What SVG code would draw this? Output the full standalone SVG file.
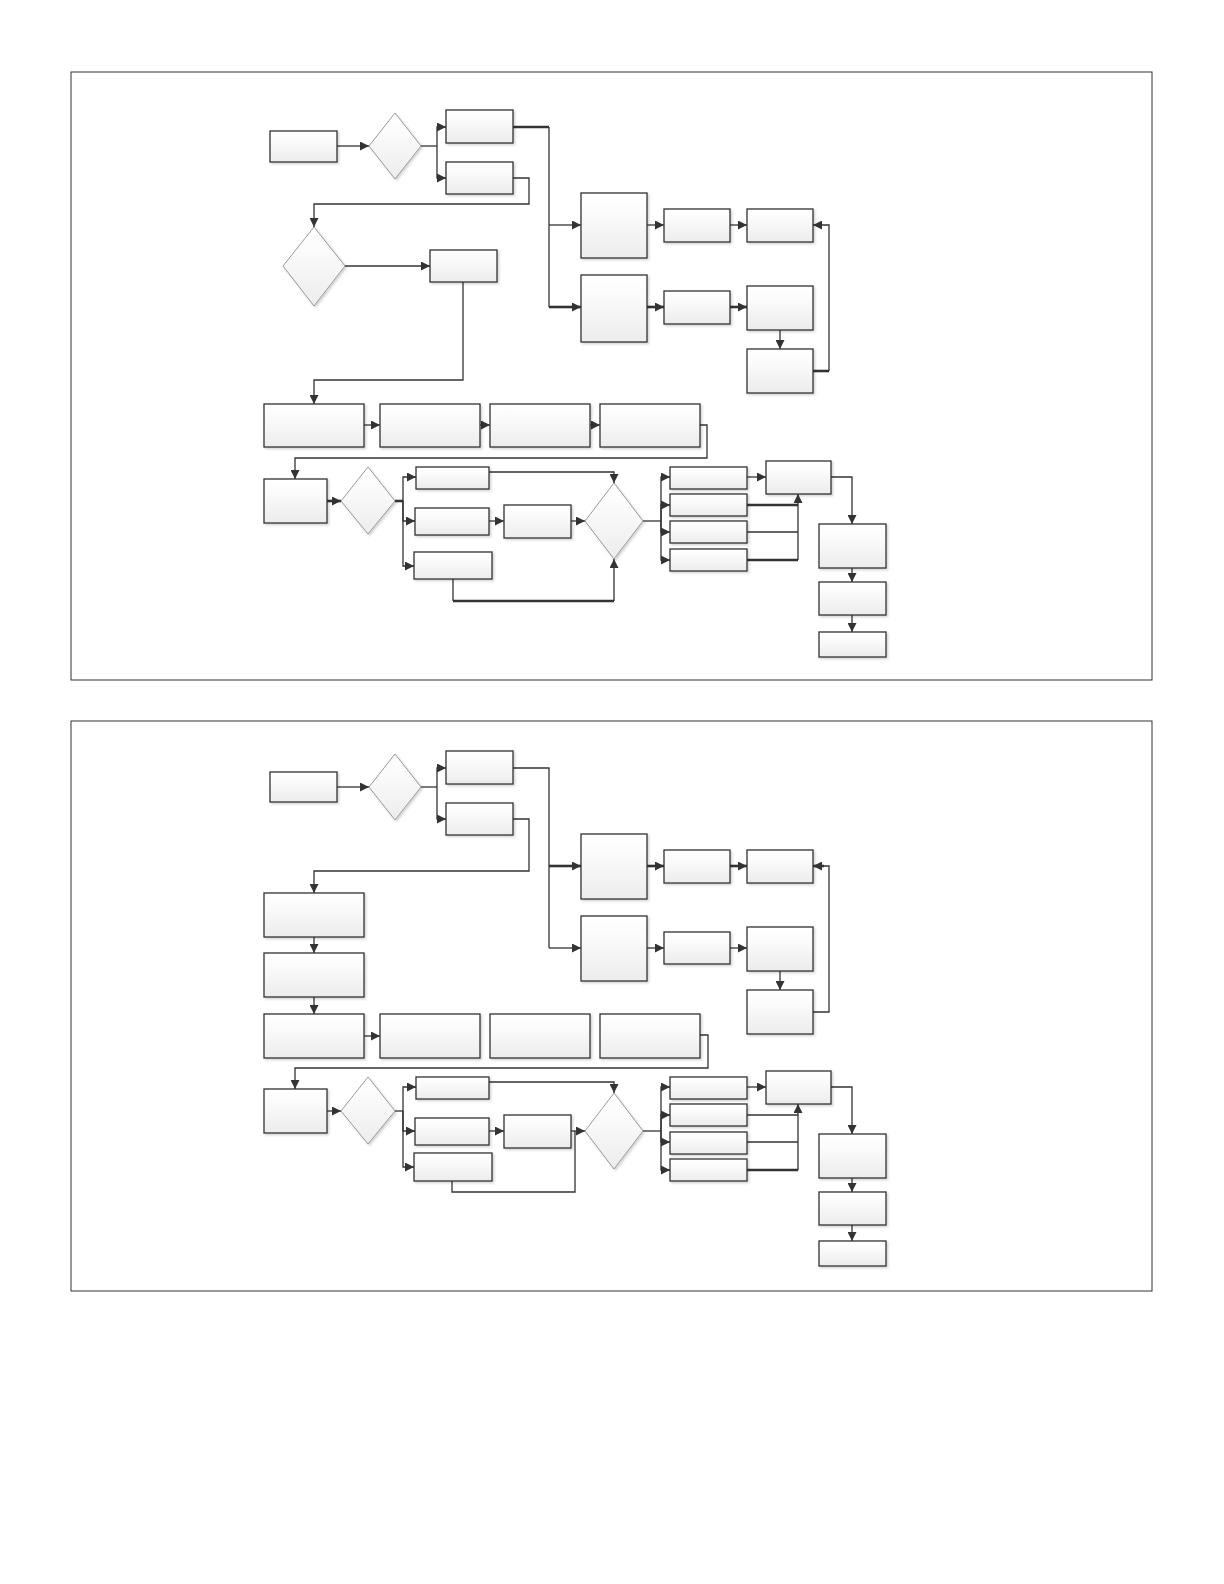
<svg xmlns="http://www.w3.org/2000/svg" width="1224" height="1584" viewBox="0 0 1224 1584">
<defs>
<linearGradient id="g" x1="0" y1="0" x2="0" y2="1">
<stop offset="0" stop-color="#ffffff"/>
<stop offset="0.3" stop-color="#fbfbfb"/>
<stop offset="1" stop-color="#ececec"/>
</linearGradient>
<filter id="sh" x="-10%" y="-10%" width="130%" height="130%">
<feDropShadow dx="1.5" dy="1.5" stdDeviation="1" flood-color="#000" flood-opacity="0.18"/>
</filter>
<marker id="ah" viewBox="0 0 10 10" refX="10" refY="5" markerWidth="10" markerHeight="9" orient="auto" markerUnits="userSpaceOnUse">
<path d="M0,0 L10,5 L0,10 z" fill="#333"/>
</marker>
</defs>
<style>
.b{fill:url(#g);stroke:#333;stroke-width:1.3;filter:url(#sh)}
.d{fill:url(#g);stroke:#999;stroke-width:1;filter:url(#sh)}
.c{fill:none;stroke:#333;stroke-width:1.3}
.t{fill:none;stroke:#333;stroke-width:2.6}
.a{marker-end:url(#ah)}
.f{fill:#fff;stroke:#333;stroke-width:1}
</style>
<rect x="0" y="0" width="1224" height="1584" fill="#fff"/>
<rect class="f" x="71" y="72" width="1081" height="608"/>
<rect class="f" x="71" y="721" width="1081" height="570"/>

<g id="top-connectors">
<path class="c a" d="M337,146 H369"/>
<path class="c" d="M421,146 H437"/>
<path class="c a" d="M437,146 V127 H446"/>
<path class="c a" d="M437,146 V178 H446"/>
<path class="t" d="M513,127 H549"/>
<path class="c" d="M549,127 V307"/>
<path class="c a" d="M549,225 H581"/>
<path class="t a" d="M549,307 H581"/>
<path class="c a" d="M513,178 H529 V204 H314 V227"/>
<path class="c a" d="M345,266 H430"/>
<path class="c a" d="M463,282 V380 H314 V404"/>
<path class="c a" d="M647,225 H664"/>
<path class="c a" d="M730,225 H747"/>
<path class="t a" d="M647,307 H664"/>
<path class="t a" d="M730,307 H747"/>
<path class="c a" d="M780,330 V349"/>
<path class="t" d="M813,371 H829"/>
<path class="c a" d="M829,371 V225 H813"/>
<path class="c a" d="M364,425 H380"/>
<path class="c a" d="M480,425 H490"/>
<path class="c a" d="M590,425 H600"/>
<path class="c a" d="M700,425 H707 V458 H295 V479"/>
<path class="t a" d="M327,501 H341"/>
<path class="t" d="M395,501 H403"/>
<path class="c a" d="M403,501 V477 H416"/>
<path class="c a" d="M403,501 V521 H415"/>
<path class="c a" d="M403,501 V566 H414"/>
<path class="c a" d="M489,472 H614 V483"/>
<path class="c a" d="M489,521 H504"/>
<path class="c a" d="M571,521 H585"/>
<path class="c" d="M453,579 V601"/>
<path class="t" d="M453,601 H614"/>
<path class="c a" d="M614,601 V559"/>
<path class="c" d="M643,521 H661"/>
<path class="c a" d="M661,521 V477 H670"/>
<path class="c a" d="M661,521 V505 H670"/>
<path class="c a" d="M661,521 V532 H670"/>
<path class="c a" d="M661,521 V560 H670"/>
<path class="c a" d="M747,477 H766"/>
<path class="t" d="M747,505 H798"/>
<path class="c" d="M747,532 H798"/>
<path class="t" d="M747,560 H798"/>
<path class="c a" d="M798,560 V494"/>
<path class="c a" d="M831,477 H852 V524"/>
<path class="c a" d="M852,568 V582"/>
<path class="c a" d="M852,615 V632"/>
</g>

<g id="top-nodes">
<rect id="t-a" class="b" x="270" y="131" width="67" height="31"/>
<polygon id="t-d1" class="d" points="395,113 421,146 395,179 369,146"/>
<rect id="t-b1" class="b" x="446" y="110" width="67" height="33"/>
<rect id="t-b2" class="b" x="446" y="162" width="67" height="32"/>
<polygon id="t-d2" class="d" points="314,227 345,266 314,306 283,266"/>
<rect id="t-e" class="b" x="430" y="250" width="67" height="32"/>
<rect id="t-c1" class="b" x="581" y="193" width="66" height="65"/>
<rect id="t-c2" class="b" x="581" y="275" width="66" height="67"/>
<rect id="t-g1" class="b" x="664" y="209" width="66" height="33"/>
<rect id="t-h1" class="b" x="747" y="209" width="66" height="33"/>
<rect id="t-g2" class="b" x="664" y="291" width="66" height="33"/>
<rect id="t-h2" class="b" x="747" y="286" width="66" height="44"/>
<rect id="t-h3" class="b" x="747" y="349" width="66" height="44"/>
<rect id="t-f1" class="b" x="264" y="404" width="100" height="43"/>
<rect id="t-f2" class="b" x="380" y="404" width="100" height="43"/>
<rect id="t-f3" class="b" x="490" y="404" width="100" height="43"/>
<rect id="t-f4" class="b" x="600" y="404" width="100" height="43"/>
<rect id="t-i" class="b" x="264" y="479" width="63" height="44"/>
<polygon id="t-d3" class="d" points="368,467 395,501 368,534 341,501"/>
<rect id="t-j1" class="b" x="416" y="467" width="73" height="22"/>
<rect id="t-j2" class="b" x="415" y="508" width="74" height="27"/>
<rect id="t-j3" class="b" x="414" y="552" width="78" height="27"/>
<rect id="t-k" class="b" x="504" y="505" width="67" height="33"/>
<polygon id="t-d4" class="d" points="614,483 643,521 614,559 585,521"/>
<rect id="t-l1" class="b" x="670" y="467" width="77" height="22"/>
<rect id="t-l2" class="b" x="670" y="494" width="77" height="22"/>
<rect id="t-l3" class="b" x="670" y="521" width="77" height="22"/>
<rect id="t-l4" class="b" x="670" y="549" width="77" height="22"/>
<rect id="t-m" class="b" x="766" y="461" width="65" height="33"/>
<rect id="t-n" class="b" x="819" y="524" width="67" height="44"/>
<rect id="t-o" class="b" x="819" y="582" width="67" height="33"/>
<rect id="t-p" class="b" x="819" y="632" width="67" height="25"/>
</g>

<g id="bottom-connectors">
<path class="c a" d="M337,787 H369"/>
<path class="c" d="M421,787 H437"/>
<path class="c a" d="M437,787 V768 H446"/>
<path class="c a" d="M437,787 V819 H446"/>
<path class="c" d="M513,768 H549 V948"/>
<path class="t a" d="M549,866 H581"/>
<path class="c a" d="M549,948 H581"/>
<path class="c a" d="M513,819 H529 V871 H314 V893"/>
<path class="t a" d="M647,866 H664"/>
<path class="t a" d="M730,866 H747"/>
<path class="c a" d="M647,948 H664"/>
<path class="c a" d="M730,948 H747"/>
<path class="c a" d="M780,971 V990"/>
<path class="c" d="M813,1012 H829 V866 H822"/>
<path class="t a" d="M824,866 H813"/>
<path class="c a" d="M314,937 V953"/>
<path class="c a" d="M314,997 V1014"/>
<path class="c a" d="M364,1036 H380"/>
<path class="c a" d="M700,1035 H708 V1068 H295 V1089"/>
<path class="c a" d="M327,1111 H341"/>
<path class="c" d="M395,1111 H403"/>
<path class="c a" d="M403,1111 V1087 H416"/>
<path class="c a" d="M403,1111 V1131 H415"/>
<path class="c a" d="M403,1111 V1167 H414"/>
<path class="c a" d="M489,1082 H614 V1093"/>
<path class="c a" d="M489,1131 H504"/>
<path class="c a" d="M571,1131 H585"/>
<path class="c" d="M452,1181 V1192 H575 V1131"/>
<path class="c" d="M643,1131 H661"/>
<path class="c a" d="M661,1131 V1087 H670"/>
<path class="c a" d="M661,1131 V1115 H670"/>
<path class="c a" d="M661,1131 V1142 H670"/>
<path class="c a" d="M661,1131 V1170 H670"/>
<path class="c a" d="M747,1087 H766"/>
<path class="c" d="M747,1115 H798"/>
<path class="c" d="M747,1142 H798"/>
<path class="t" d="M747,1170 H798"/>
<path class="c a" d="M798,1170 V1104"/>
<path class="c a" d="M831,1087 H852 V1134"/>
<path class="c a" d="M852,1178 V1192"/>
<path class="c a" d="M852,1225 V1241"/>
</g>

<g id="bottom-nodes">
<rect id="b-a" class="b" x="270" y="772" width="67" height="30"/>
<polygon id="b-d1" class="d" points="395,754 421,787 395,820 369,787"/>
<rect id="b-b1" class="b" x="446" y="751" width="67" height="33"/>
<rect id="b-b2" class="b" x="446" y="803" width="67" height="32"/>
<rect id="b-c1" class="b" x="581" y="834" width="66" height="65"/>
<rect id="b-c2" class="b" x="581" y="916" width="66" height="65"/>
<rect id="b-g1" class="b" x="664" y="850" width="66" height="33"/>
<rect id="b-h1" class="b" x="747" y="850" width="66" height="33"/>
<rect id="b-g2" class="b" x="664" y="932" width="66" height="32"/>
<rect id="b-h2" class="b" x="747" y="927" width="66" height="44"/>
<rect id="b-h3" class="b" x="747" y="990" width="66" height="44"/>
<rect id="b-q1" class="b" x="264" y="893" width="100" height="44"/>
<rect id="b-q2" class="b" x="264" y="953" width="100" height="44"/>
<rect id="b-f1" class="b" x="264" y="1014" width="100" height="44"/>
<rect id="b-f2" class="b" x="380" y="1014" width="100" height="44"/>
<rect id="b-f3" class="b" x="490" y="1014" width="100" height="44"/>
<rect id="b-f4" class="b" x="600" y="1014" width="100" height="44"/>
<rect id="b-i" class="b" x="264" y="1089" width="63" height="44"/>
<polygon id="b-d3" class="d" points="368,1077 395,1111 368,1144 341,1111"/>
<rect id="b-j1" class="b" x="416" y="1077" width="73" height="22"/>
<rect id="b-j2" class="b" x="415" y="1118" width="74" height="27"/>
<rect id="b-j3" class="b" x="414" y="1153" width="78" height="28"/>
<rect id="b-k" class="b" x="504" y="1115" width="67" height="33"/>
<polygon id="b-d4" class="d" points="614,1093 643,1131 614,1169 585,1131"/>
<rect id="b-l1" class="b" x="670" y="1077" width="77" height="22"/>
<rect id="b-l2" class="b" x="670" y="1104" width="77" height="22"/>
<rect id="b-l3" class="b" x="670" y="1132" width="77" height="22"/>
<rect id="b-l4" class="b" x="670" y="1159" width="77" height="22"/>
<rect id="b-m" class="b" x="766" y="1071" width="65" height="33"/>
<rect id="b-n" class="b" x="819" y="1134" width="67" height="44"/>
<rect id="b-o" class="b" x="819" y="1192" width="67" height="33"/>
<rect id="b-p" class="b" x="819" y="1241" width="67" height="25"/>
</g>
</svg>
